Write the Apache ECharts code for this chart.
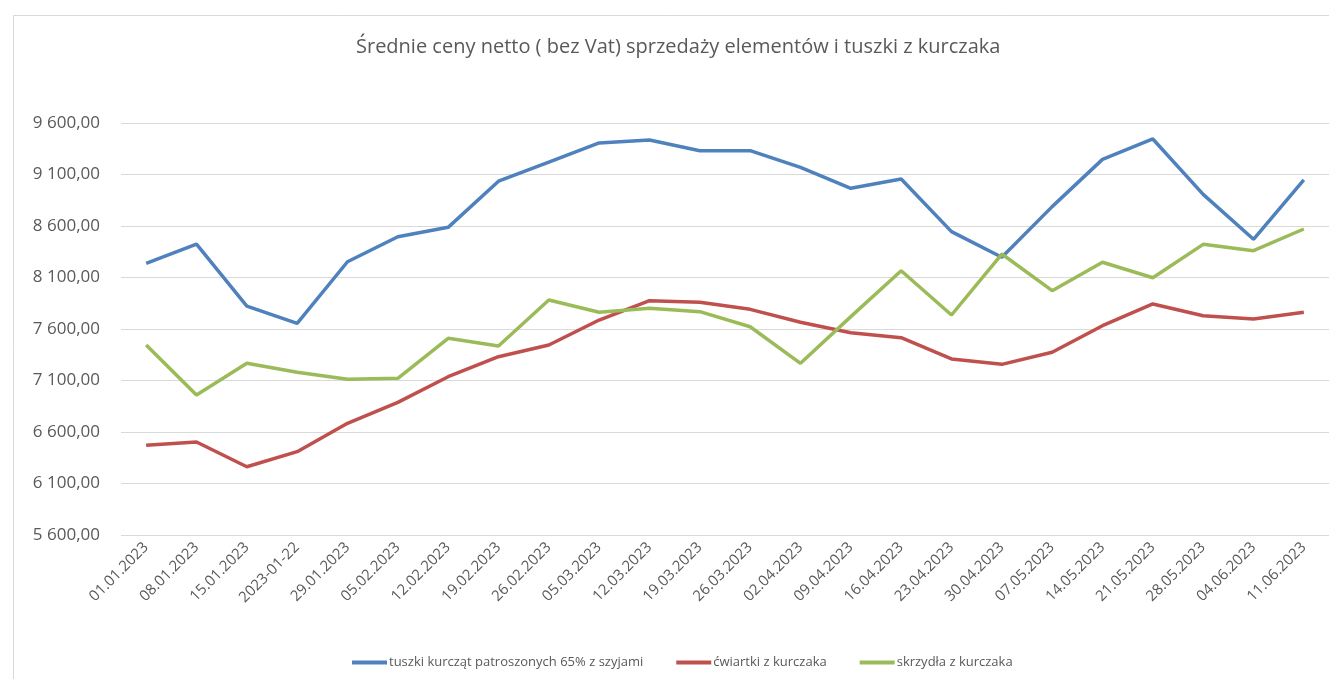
<!DOCTYPE html>
<html>
<head>
<meta charset="utf-8">
<script src="https://cdn.jsdelivr.net/npm/echarts@6/dist/echarts.min.js"></script>
<style>
  html, body { margin: 0; padding: 0; background: #fff; }
  #graph { width: 1329px; height: 679px; }
</style>
</head>
<body>
<div id="graph"></div>
<script>
var dates = ['01.01.2023', '08.01.2023', '15.01.2023', '2023-01-22', '29.01.2023', '05.02.2023',
  '12.02.2023', '19.02.2023', '26.02.2023', '05.03.2023', '12.03.2023', '19.03.2023',
  '26.03.2023', '02.04.2023', '09.04.2023', '16.04.2023', '23.04.2023', '30.04.2023',
  '07.05.2023', '14.05.2023', '21.05.2023', '28.05.2023', '04.06.2023', '11.06.2023'];

var tuszki = [8238, 8425, 7823, 7655, 8253, 8496, 8587, 9035, 9221, 9406, 9435, 9331,
  9331, 9170, 8966, 9056, 8545, 8296, 8788, 9247, 9445, 8907, 8471, 9047];

var cwiartki = [6471, 6503, 6263, 6409, 6684, 6888, 7137, 7331, 7445, 7687, 7875, 7859,
  7791, 7665, 7564, 7516, 7309, 7257, 7374, 7632, 7843, 7729, 7697, 7762];

var skrzydla = [7445, 6959, 7267, 7180, 7112, 7121, 7510, 7435, 7882, 7762, 7801, 7768,
  7622, 7267, 7720, 8166, 7736, 8328, 7972, 8248, 8098, 8422, 8360, 8571];

var seriesNames = ['tuszki kurcząt patroszonych 65% z szyjami', 'ćwiartki z kurczaka', 'skrzydła z kurczaka'];
var colors = ['#4f81bd', '#c0504d', '#9bbb59'];

function fmt(v) {
  var s = v.toFixed(2).replace('.', ',');
  var parts = s.split(',');
  parts[0] = parts[0].replace(/\B(?=(\d{3})+(?!\d))/g, ' ');
  return parts.join(',');
}

var myChart = echarts.init(document.getElementById('graph'));
var font = 'Open Sans';

var option = {
  color: colors,
  animation: false,
  title: {
    text: 'Średnie ceny netto ( bez Vat) sprzedaży elementów i tuszki z kurczaka',
    left: 351,
    top: 32,
    textStyle: { fontFamily: font, fontSize: 20, fontWeight: 'normal', color: '#595959' }
  },
  graphic: [{
    type: 'rect',
    left: 11, top: 13,
    shape: { width: 1340, height: 700 },
    style: { fill: 'none', stroke: '#d9d9d9', lineWidth: 1 },
    silent: true
  }],
  legend: {
    data: seriesNames,
    bottom: 5,
    left: 347,
    itemWidth: 35,
    itemHeight: 4,
    itemGap: 33,
    icon: 'rect',
    textStyle: { fontFamily: font, fontSize: 13, color: '#595959', padding: [0, 0, 0, -3] }
  },
  grid: { left: 121, right: -13, top: 123, bottom: 144, containLabel: false },
  xAxis: {
    type: 'category',
    data: dates,
    boundaryGap: true,
    axisLine: { show: false },
    axisTick: { show: false },
    axisLabel: {
      rotate: 45,
      interval: 0,
      margin: 10,
      fontFamily: font,
      fontSize: 15,
      color: '#595959'
    }
  },
  yAxis: {
    type: 'value',
    min: 5600,
    max: 9600,
    interval: 500,
    axisLine: { show: false },
    axisTick: { show: false },
    splitLine: { lineStyle: { color: '#d9d9d9', width: 1 } },
    axisLabel: {
      margin: 21,
      fontFamily: font,
      fontSize: 17,
      color: '#595959',
      formatter: fmt
    }
  },
  series: [
    { name: seriesNames[0], type: 'line', data: tuszki, symbol: 'none', lineStyle: { width: 3.5 } },
    { name: seriesNames[1], type: 'line', data: cwiartki, symbol: 'none', lineStyle: { width: 3.5 } },
    { name: seriesNames[2], type: 'line', data: skrzydla, symbol: 'none', lineStyle: { width: 3.5 } }
  ]
};

myChart.setOption(option, true);
</script>
</body>
</html>
